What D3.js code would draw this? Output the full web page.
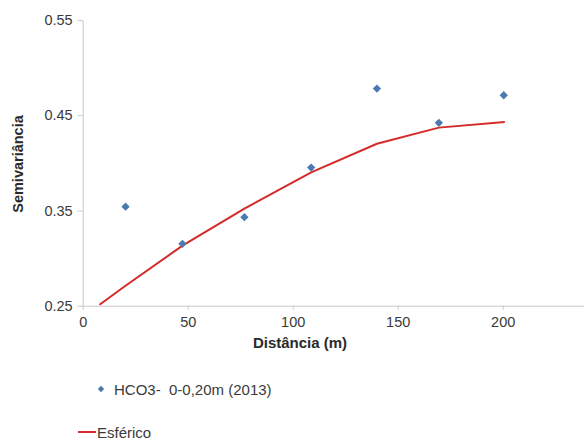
<!DOCTYPE html>
<html><head><meta charset="utf-8">
<script src="https://cdn.jsdelivr.net/npm/d3@7"></script>
<style>body{margin:0;background:#fff}svg{display:block}</style>
</head><body>
<svg id="c" width="584" height="443"></svg>
<script>
const pointDist = [20.4, 47.5, 77, 108.8, 140.1, 169.6, 200.5];
const pointGamma = [0.354, 0.315, 0.343, 0.395, 0.478, 0.442, 0.471];
const modelDist = [8, 20.4, 47.5, 77, 108.8, 140.1, 169.6, 201];
const modelGamma = [0.251, 0.271, 0.313, 0.352, 0.390, 0.420, 0.437, 0.443];
const xTicks = [0, 50, 100, 150, 200];
const yTicks = [0.25, 0.35, 0.45, 0.55];
const seriesNames = ["HCO3-  0-0,20m (2013)", "Esférico"];
const xTitle = "Distância (m)", yTitle = "Semivariância";

const svg = d3.select("#c");
const x = d3.scaleLinear().domain([0, 240]).range([82.7, 586.7]);
const y = d3.scaleLinear().domain([0.25, 0.55]).range([305.7, 20]);
const font = "'Liberation Sans', Arial, sans-serif";

const gx = svg.append("g").attr("transform", `translate(0,${y(0.25)})`)
  .call(d3.axisBottom(x).tickValues(xTicks).tickSize(4).tickSizeOuter(0).tickPadding(7).tickFormat(d3.format("d")));
const gy = svg.append("g").attr("transform", `translate(${x(0)},0)`)
  .call(d3.axisLeft(y).tickValues(yTicks).tickSize(5).tickSizeOuter(0).tickPadding(5).tickFormat(d3.format(".2f")));
[gx, gy].forEach(g => {
  g.select(".domain").attr("stroke", "#c8c8c8");
  g.selectAll(".tick line").attr("stroke", "#c8c8c8");
  g.selectAll(".tick text").attr("fill", "#3a3a3a").style("font-family", font).style("font-size", "14.5px");
});

svg.append("text").attr("x", 300).attr("y", 348).attr("text-anchor", "middle")
  .style("font-family", font).style("font-size", "15px").style("font-weight", "bold").attr("fill", "#2a2a2a").text(xTitle);
svg.append("text").attr("transform", "translate(23,164) rotate(-90)").attr("text-anchor", "middle")
  .style("font-family", font).style("font-size", "14.5px").style("font-weight", "bold").attr("fill", "#2a2a2a").text(yTitle);

const line = d3.line().x((d, i) => x(modelDist[i])).y(d => y(d));
svg.append("path").datum(modelGamma).attr("d", line).attr("fill", "none")
  .attr("stroke", "#d42a2a").attr("stroke-width", 2);

const diamond = d3.symbol().type(d3.symbolDiamond2).size(44);
svg.append("g").selectAll("path").data(pointGamma).join("path")
  .attr("transform", (d, i) => `translate(${x(pointDist[i])},${y(d)})`)
  .attr("d", diamond).attr("fill", "#4a7ab0");

// legend
const lg = svg.append("g");
lg.append("path").attr("transform", "translate(101,389)").attr("d", d3.symbol().type(d3.symbolDiamond2).size(26)).attr("fill", "#4a7ab0");
lg.append("text").attr("x", 114).attr("y", 394.5).attr("xml:space", "preserve").style("white-space", "pre")
  .style("font-family", font).style("font-size", "15px").attr("fill", "#3a3a3a").text(seriesNames[0]);
lg.append("line").attr("x1", 78).attr("x2", 96).attr("y1", 432).attr("y2", 432).attr("stroke", "#d42a2a").attr("stroke-width", 2);
lg.append("text").attr("x", 97).attr("y", 437.5).style("font-family", font).style("font-size", "15px").attr("fill", "#3a3a3a").text(seriesNames[1]);
</script>
</body></html>
